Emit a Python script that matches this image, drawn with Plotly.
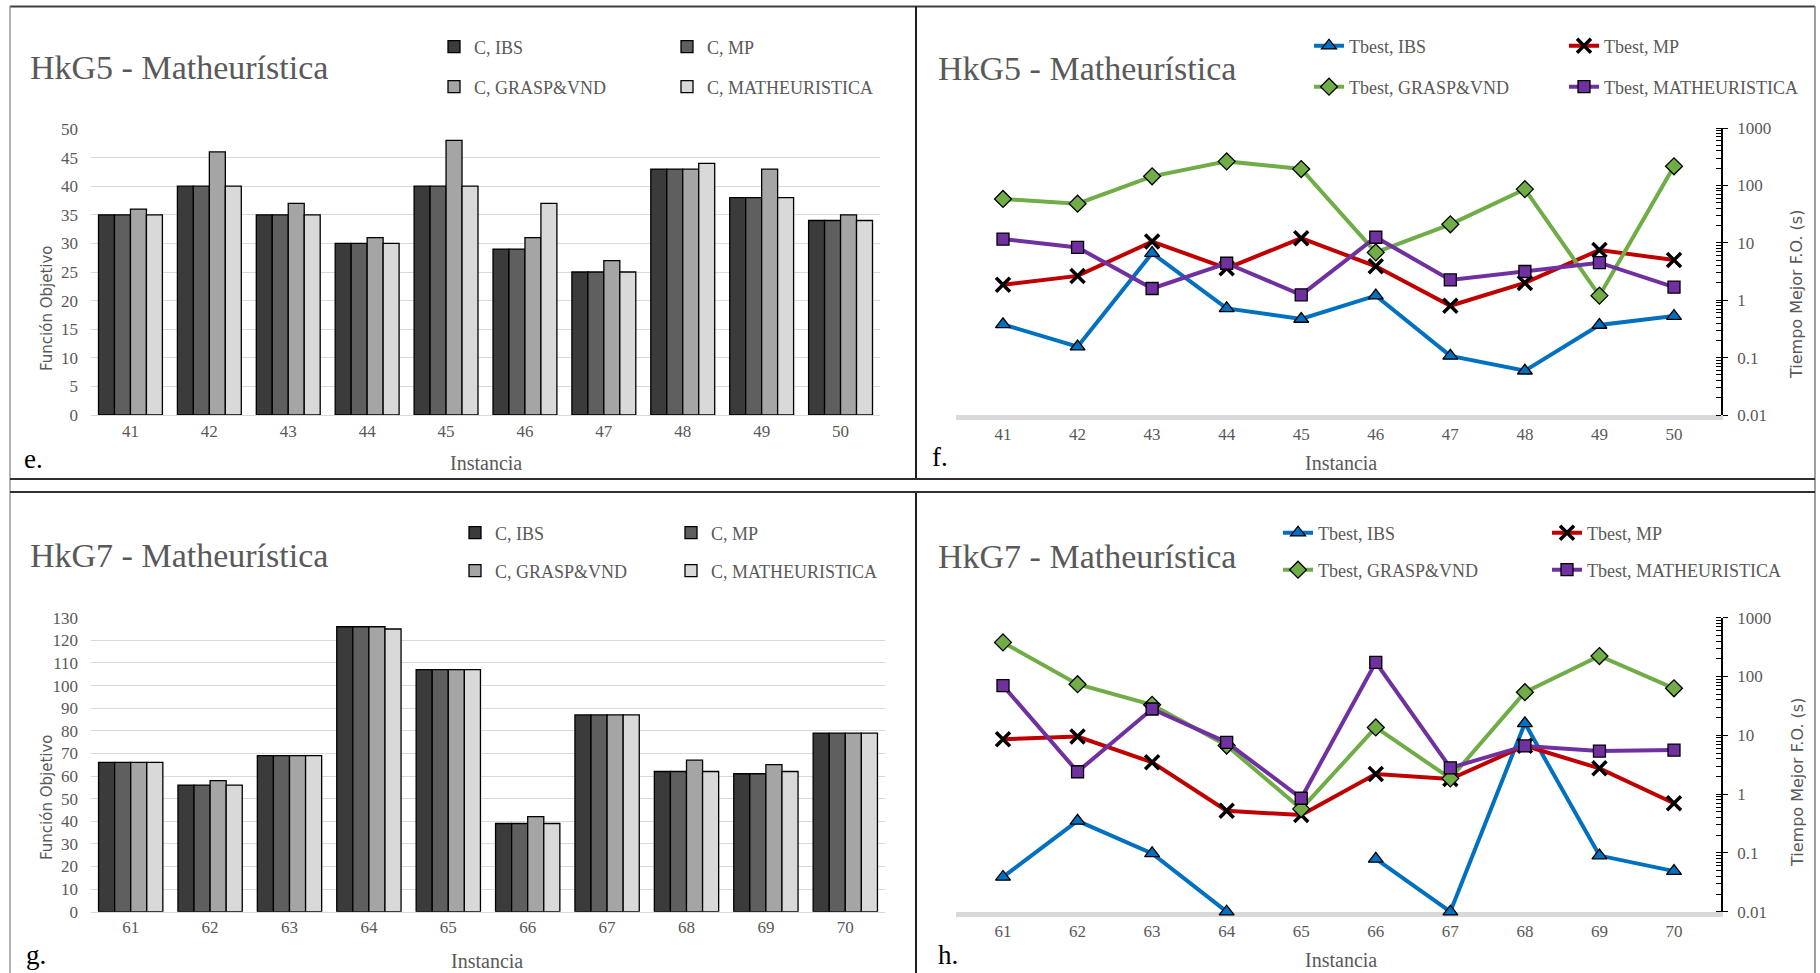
import plotly.graph_objects as go

W, H = 1820, 973
def px(x): return x / W
def py(y): return 1 - y / H

SERIF = "Liberation Serif"
SANS = "DejaVu Sans"
GRAY = "#595959"

# ---------------- data ----------------
inst_e = ["41", "42", "43", "44", "45", "46", "47", "48", "49", "50"]
c_ibs_e = [35, 40, 35, 30, 40, 29, 25, 43, 38, 34]
c_mp_e = [35, 40, 35, 30, 40, 29, 25, 43, 38, 34]
c_grasp_e = [36, 46, 37, 31, 48, 31, 27, 43, 43, 35]
c_math_e = [35, 40, 35, 30, 40, 37, 25, 44, 38, 34]

t_ibs_f = [0.38, 0.155, 6.6, 0.72, 0.47, 1.2, 0.107, 0.059, 0.37, 0.53]
t_mp_f = [1.85, 2.65, 10.5, 3.6, 12, 3.9, 0.8, 2.0, 7.5, 5.0]
t_grasp_f = [58, 48, 144, 262, 193, 6.8, 21, 86, 1.2, 215]
t_math_f = [11.6, 8.3, 1.6, 4.4, 1.24, 12.5, 2.26, 3.16, 4.5, 1.69]

inst_g = ["61", "62", "63", "64", "65", "66", "67", "68", "69", "70"]
c_ibs_g = [66, 56, 69, 126, 107, 39, 87, 62, 61, 79]
c_mp_g = [66, 56, 69, 126, 107, 39, 87, 62, 61, 79]
c_grasp_g = [66, 58, 69, 126, 107, 42, 87, 67, 65, 79]
c_math_g = [66, 56, 69, 125, 107, 39, 87, 62, 62, 79]

t_ibs_h = [0.039, 0.35, 0.098, 0.01, None, 0.079, 0.01, 16, 0.09, 0.049]
t_mp_h = [8.6, 9.5, 3.47, 0.52, 0.44, 2.2, 1.8, 6.65, 2.74, 0.7]
t_grasp_h = [380, 74, 33, 6.7, 0.56, 13.6, 1.85, 54, 223, 63]
t_math_h = [70, 2.4, 28, 7.6, 0.85, 174, 2.8, 6.6, 5.4, 5.6]

bar_names = ["C, IBS", "C, MP", "C, GRASP&VND", "C, MATHEURISTICA"]
bar_colors = ["#3b3b3b", "#5f5f5f", "#a5a5a5", "#d9d9d9"]
line_names = ["Tbest, IBS", "Tbest, MP", "Tbest, GRASP&VND", "Tbest, MATHEURISTICA"]
line_colors = ["#0070c0", "#c00000", "#70ad47", "#7030a0"]
line_symbols = ["triangle-up", "x-thin", "diamond", "square"]
line_sizes = [13, 14, 13, 12]

fig = go.Figure()

legend_counter = [0]
def next_legend():
    legend_counter[0] += 1
    n = legend_counter[0]
    return "legend" if n == 1 else f"legend{n}"

legend_specs = []  # (name, text_x, row_y)

def add_bars(cats, series, xa, ya, leg_pos):
    for i, (name, vals, col) in enumerate(zip(bar_names, series, bar_colors)):
        lg = next_legend()
        fig.add_trace(go.Bar(
            x=cats, y=vals, name=name, xaxis=xa, yaxis=ya,
            marker=dict(color=col, line=dict(color="#000000", width=1.3)),
            legend=lg, showlegend=True,
        ))
        legend_specs.append((lg, leg_pos[i][0], leg_pos[i][1]))

def add_lines(cats, series, xa, ya, leg_pos):
    for i, (name, vals) in enumerate(zip(line_names, series)):
        lg = next_legend()
        sym = line_symbols[i]
        if sym == "x-thin":
            marker = dict(symbol=sym, size=line_sizes[i], color="#000000",
                          line=dict(color="#000000", width=3.5))
        else:
            marker = dict(symbol=sym, size=line_sizes[i], color=line_colors[i],
                          line=dict(color="#000000", width=1.3))
        fig.add_trace(go.Scatter(
            x=cats, y=vals, name=name, xaxis=xa, yaxis=ya,
            mode="lines+markers", connectgaps=False, cliponaxis=False,
            line=dict(color=line_colors[i], width=4),
            marker=marker, legend=lg, showlegend=True,
        ))
        legend_specs.append((lg, leg_pos[i][0], leg_pos[i][1]))

add_bars(inst_e, [c_ibs_e, c_mp_e, c_grasp_e, c_math_e], "x", "y",
         [(475, 47), (708, 47), (475, 87), (708, 87)])
add_lines(inst_e, [t_ibs_f, t_mp_f, t_grasp_f, t_math_f], "x2", "y2",
          [(1350, 46), (1605, 46), (1350, 87), (1605, 87)])
add_bars(inst_g, [c_ibs_g, c_mp_g, c_grasp_g, c_math_g], "x3", "y3",
         [(496, 533), (712, 533), (496, 571), (712, 571)])
add_lines(inst_g, [t_ibs_h, t_mp_h, t_grasp_h, t_math_h], "x4", "y4",
          [(1319, 533), (1588, 533), (1319, 570), (1588, 570)])

layout = dict(
    width=W, height=H, margin=dict(l=0, r=0, t=0, b=0, autoexpand=False),
    paper_bgcolor="white", plot_bgcolor="white",
    barmode="group", bargap=0.19, bargroupgap=0,
    font=dict(family=SERIF, color=GRAY),
)

for lg, tx, ty in legend_specs:
    layout[lg] = dict(
        x=px(tx - 41), y=py(ty), xanchor="left", yanchor="middle",
        orientation="h", bgcolor="rgba(0,0,0,0)", borderwidth=0,
        font=dict(family=SERIF, size=18, color=GRAY),
    )

tickfont = dict(family=SERIF, size=17, color=GRAY)

def bar_axes(xk, yk, xdom, ydom, yr, dt, anchor_x, anchor_y):
    layout[xk] = dict(domain=[px(xdom[0]), px(xdom[1])], type="category",
                      showline=True, linecolor="#d9d9d9", linewidth=1.3,
                      showgrid=False, ticks="", tickfont=tickfont,
                      ticklabelstandoff=0, anchor=anchor_y)
    layout[yk] = dict(domain=[py(ydom[1]), py(ydom[0])], range=yr, dtick=dt,
                      showgrid=True, gridcolor="#d9d9d9", gridwidth=1.3,
                      zeroline=False, showline=False, ticks="",
                      tickfont=tickfont, ticklabelstandoff=12, anchor=anchor_x)

minor_vals = [k * 10 ** e for e in range(-2, 3) for k in range(1, 10)] + [1000]

def log_axes(xk, yk, xdom, ydom, anchor_x, anchor_y):
    layout[xk] = dict(domain=[px(xdom[0]), px(xdom[1])], type="category",
                      showline=True, linecolor="#d9d9d9", linewidth=5,
                      showgrid=False, ticks="", tickfont=tickfont,
                      ticklabelstandoff=0, layer="below traces", anchor=anchor_y)
    layout[yk] = dict(domain=[py(ydom[1]), py(ydom[0])], type="log",
                      range=[-2, 3], side="right", anchor=anchor_x,
                      tickvals=[0.01, 0.1, 1, 10, 100, 1000],
                      ticktext=["0.01", "0.1", "1", "10", "100", "1000"],
                      showgrid=False, zeroline=False,
                      showline=True, linecolor="#000000", linewidth=1.5,
                      ticks="outside", ticklen=5, tickcolor="#000000", tickwidth=1.3,
                      minor=dict(tickvals=minor_vals, ticks="inside", ticklen=5,
                                 tickcolor="#000000", tickwidth=1.2, showgrid=False),
                      tickfont=tickfont, ticklabelstandoff=6)

bar_axes("xaxis", "yaxis", (91, 880), (129, 415), [0, 50], 5, "x", "y")
log_axes("xaxis2", "yaxis2", (956, 1721), (128, 415), "x2", "y2")
bar_axes("xaxis3", "yaxis3", (91, 885), (617.7, 911.7), [0, 130], 10, "x3", "y3")
log_axes("xaxis4", "yaxis4", (956, 1721), (617.7, 911.7), "x4", "y4")

annotations = []
def ann(text, x, y, size, color=GRAY, family=SERIF, angle=0, xanchor="center"):
    annotations.append(dict(text=text, x=px(x), y=py(y), xref="paper", yref="paper",
                            showarrow=False, xanchor=xanchor, yanchor="middle",
                            textangle=angle, font=dict(family=family, size=size, color=color)))

ann("HkG5 - Matheurística", 28, 67, 34, xanchor="left")
ann("HkG5 - Matheurística", 936, 68, 34, xanchor="left")
ann("HkG7 - Matheurística", 28, 555, 34, xanchor="left")
ann("HkG7 - Matheurística", 936, 556, 34, xanchor="left")
ann("Función Objetivo", 47, 308, 15, family=SANS, angle=-90)
ann("Función Objetivo", 47, 797, 15, family=SANS, angle=-90)
ann("Tiempo Mejor F.O. (s)", 1797, 295, 16, family=SANS, angle=-90)
ann("Tiempo Mejor F.O. (s)", 1797, 783, 16, family=SANS, angle=-90)
ann("Instancia", 486, 463, 20)
ann("Instancia", 1341, 463, 20)
ann("Instancia", 487, 961, 20)
ann("Instancia", 1341, 960, 20)
ann("e.", 22, 459, 27, color="#000000", xanchor="left")
ann("f.", 930, 457, 27, color="#000000", xanchor="left")
ann("g.", 24, 955, 27, color="#000000", xanchor="left")
ann("h.", 936, 955, 27, color="#000000", xanchor="left")
layout["annotations"] = annotations

shapes = []
def line(x0, y0, x1, y1, color, width):
    shapes.append(dict(type="line", xref="paper", yref="paper",
                       x0=px(x0), y0=py(y0), x1=px(x1), y1=py(y1),
                       line=dict(color=color, width=width)))
line(10, 6.5, 1815, 6.5, "#404040", 2)
line(10, 6, 10, 973, "#808080", 1.2)
line(1815, 6, 1815, 973, "#808080", 1.5)
line(916, 6, 916, 479, "#202020", 2)
line(916, 492, 916, 973, "#202020", 2)
line(10, 479, 1815, 479, "#303030", 2)
line(10, 492, 1815, 492, "#303030", 2)
layout["shapes"] = shapes

fig.update_layout(**layout)
fig.write_html("out.html")
